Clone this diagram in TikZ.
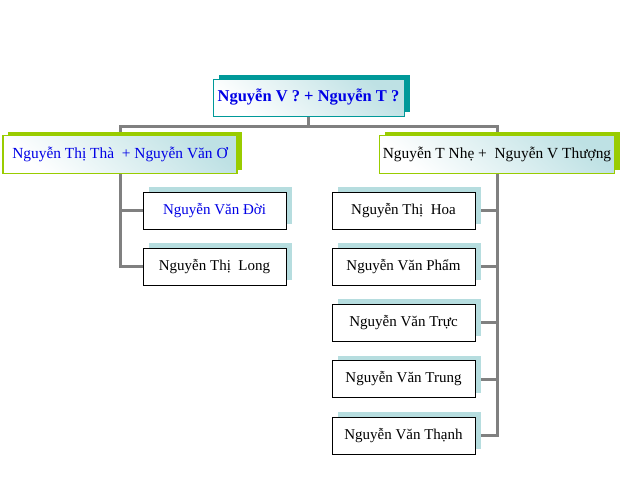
\documentclass[tikz,border=0pt]{standalone}
\usepackage{fontspec}
\setmainfont{Liberation Serif}
\usetikzlibrary{shadows, backgrounds}
\definecolor{rootteal}{RGB}{0,153,153}
\definecolor{leafgreen}{RGB}{153,204,0}
\definecolor{shadeblue}{RGB}{182,221,223}
\definecolor{boxtint}{RGB}{190,225,228}
\definecolor{conngray}{RGB}{128,128,128}
\definecolor{nameblue}{RGB}{0,0,230}

\begin{document}
\begin{tikzpicture}[x=1pt, y=-1pt,
  every node/.style={font=\fontsize{15}{18}\selectfont},
  tinted/.style={top color=boxtint, bottom color=white, shading angle=-40},
  rootbox/.style={rectangle, draw=rootteal, line width=1pt, tinted,
                  minimum width=191pt, minimum height=37pt, text=nameblue,
                  font=\bfseries\fontsize{16.5}{20}\selectfont,
                  drop shadow={shadow xshift=6pt, shadow yshift=4pt,
                               fill=rootteal, opacity=1}},
  couple/.style={rectangle, draw=leafgreen, line width=1.2pt, tinted,
                 minimum width=234pt, minimum height=38pt,
                 font=\fontsize{15.4}{18}\selectfont,
                 drop shadow={shadow xshift=5pt, shadow yshift=4pt,
                              fill=leafgreen, opacity=1}},
  child/.style={rectangle, draw=black, line width=0.8pt, fill=white,
                minimum width=143pt, minimum height=37pt,
                drop shadow={shadow xshift=6pt, shadow yshift=5pt,
                             fill=shadeblue, opacity=1}},
  conn/.style={draw=conngray, line width=3pt}
]
\useasboundingbox (0,0) rectangle (622,480);

\node[rootbox] (root) at (308.5,97.5) {Nguyễn V ? + Nguyễn T ?};
\coordinate (bus) at (308.5,126);

\node[couple, text=nameblue] (lpar) at (120,154.5) {Nguyễn Thị Thà~ + Nguyễn Văn Ơ};
\node[couple]                (rpar) at (497,154.5) {Nguyễn T Nhẹ +~ Nguyễn V Thượng};

% left family
\node[child, text=nameblue] (doi)  at (214.5,210.5) {Nguyễn Văn Đời};
\node[child]                (long) at (214.5,266.5) {Nguyễn Thị~ Long};

% right family
\node[child] (hoa)   at (403.5,210.5) {Nguyễn Thị~ Hoa};
\node[child] (pham)  at (403.5,266.5) {Nguyễn Văn Phẩm};
\node[child] (truc)  at (403.5,322.5) {Nguyễn Văn Trực};
\node[child] (trung) at (403.5,379)   {Nguyễn Văn Trung};
\node[child] (thanh) at (403.5,435.5) {Nguyễn Văn Thạnh};

\begin{scope}[on background layer]
\draw[conn] (root.south) -- (bus);
\draw[conn] (bus) -| (lpar.center) -- (lpar.center |- long) -- (long.west);
\draw[conn] (lpar.center |- doi) -- (doi.west);
\draw[conn] (bus) -| (rpar.center) -- (rpar.center |- thanh) -- (thanh.east);
\draw[conn] (rpar.center |- hoa)   -- (hoa.east);
\draw[conn] (rpar.center |- pham)  -- (pham.east);
\draw[conn] (rpar.center |- truc)  -- (truc.east);
\draw[conn] (rpar.center |- trung) -- (trung.east);
\end{scope}
\end{tikzpicture}
\end{document}
